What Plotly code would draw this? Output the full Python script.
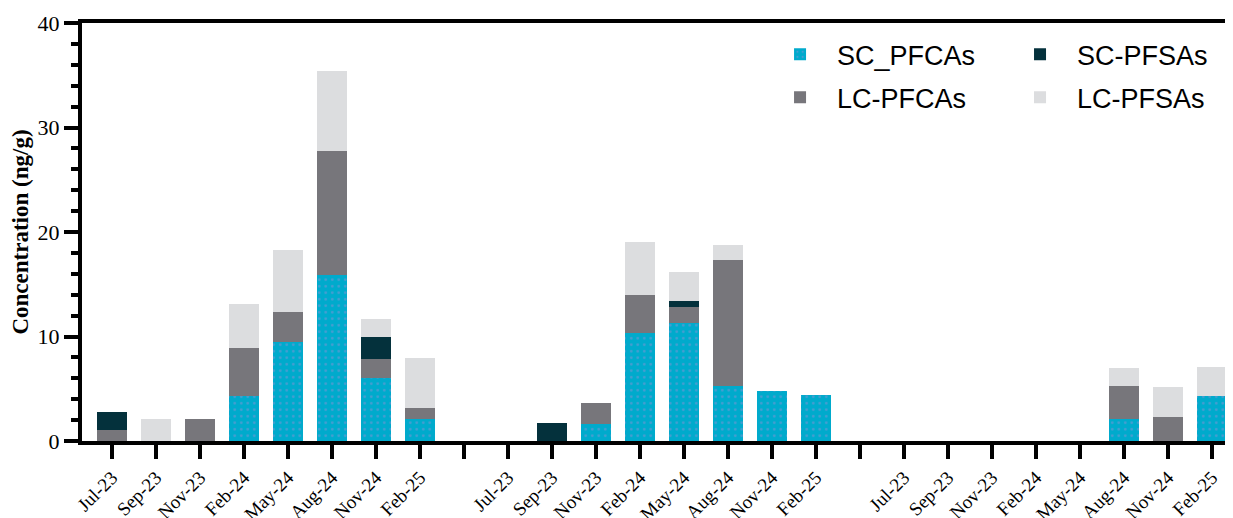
import plotly.graph_objects as go

months = ["Jul-23", "Sep-23", "Nov-23", "Feb-24", "May-24", "Aug-24", "Nov-24", "Feb-25"]

# three sampling groups, separated by an empty category
sc_pfcas = [
    [0, 0, 0, 4.3, 9.5, 15.85, 6.0, 2.1],
    [0, 0, 1.6, 10.35, 11.25, 5.3, 4.8, 4.45],
    [0, 0, 0, 0, 0, 2.15, 0, 4.3],
]
lc_pfcas = [
    [1.1, 0, 2.1, 4.6, 2.8, 11.9, 1.8, 1.05],
    [0, 0, 2.0, 3.65, 1.55, 12.0, 0, 0],
    [0, 0, 0, 0, 0, 3.1, 2.3, 0],
]
sc_pfsas = [
    [1.7, 0, 0, 0, 0, 0, 2.2, 0],
    [0, 1.7, 0, 0, 0.6, 0, 0, 0],
    [0, 0, 0, 0, 0, 0, 0, 0],
]
lc_pfsas = [
    [0, 2.1, 0, 4.2, 6.0, 7.7, 1.7, 4.8],
    [0, 0, 0, 5.0, 2.8, 1.5, 0, 0],
    [0, 0, 0, 0, 0, 1.7, 2.85, 2.75],
]

series_names = ["SC_PFCAs", "LC-PFCAs", "SC-PFSAs", "LC-PFSAs"]
colors = ["#00AACC", "#77767B", "#04313C", "#DCDDDF"]

n = len(months)
step = n + 1  # one empty slot between groups
xs, ticktext = [], []
for g in range(3):
    for i in range(n):
        xs.append(g * step + i)
for k in range(3 * step - 1):
    g, i = divmod(k, step)
    ticktext.append(months[i] if i < n else "")
tickvals = list(range(3 * step - 1))

def flat(s):
    return [v for grp in s for v in grp]

fig = go.Figure()
data = [sc_pfcas, lc_pfcas, sc_pfsas, lc_pfsas]
legend_of = ["legend", "legend3", "legend2", "legend4"]
for name, col, d, lg in zip(series_names, colors, data, legend_of):
    marker = dict(color=col, line=dict(width=0))
    if name == "SC_PFCAs":
        marker["pattern"] = dict(shape=".", fgcolor="#8E8FD6", bgcolor=col,
                                 size=6.5, solidity=0.14, fillmode="overlay")
    fig.add_trace(go.Bar(x=xs, y=flat(d), name=name, marker=marker,
                         width=0.68, legend=lg, showlegend=True))

legend_common = dict(orientation="h", xanchor="left", yanchor="middle",
                     font=dict(family="Liberation Sans, Arial", size=27, color="#000"),
                     bgcolor="rgba(0,0,0,0)", itemwidth=64)

col1, col2 = 0.5917, 0.8002
row1, row2 = 0.924, 0.821
fig.update_layout(
    width=1225, height=510,
    margin=dict(l=74, r=0, t=15, b=77),
    showlegend=True,
    barmode="stack",
    plot_bgcolor="white", paper_bgcolor="white",
    legend=dict(x=col1, y=row1, visible=True, **legend_common),
    legend2=dict(x=col2, y=row1, **legend_common),
    legend3=dict(x=col1, y=row2, **legend_common),
    legend4=dict(x=col2, y=row2, **legend_common),
    xaxis=dict(
        range=[-0.682, 25.48], automargin=False,
        tickmode="array", tickvals=tickvals, ticktext=ticktext,
        tickangle=-45,
        tickfont=dict(family="Liberation Serif, Times New Roman", size=19, color="#000"),
        showline=True, linewidth=4, linecolor="#000", mirror=True,
        ticks="outside", ticklen=14, tickwidth=4, tickcolor="#000",
        showgrid=False, zeroline=False,
    ),
    yaxis=dict(
        range=[0, 40], tickvals=[0, 10, 20, 30, 40], automargin=False,
        tickfont=dict(family="Liberation Serif, Times New Roman", size=22, color="#000"),
        showline=True, linewidth=4, linecolor="#000",
        ticks="outside", ticklen=14, tickwidth=4, tickcolor="#000",
        minor=dict(dtick=2, ticks="outside", ticklen=7, tickwidth=4, tickcolor="#000"),
        showgrid=False, zeroline=False,
        title=dict(text="<b>Concentration (ng/g)</b>",
                   font=dict(family="Liberation Serif, Times New Roman", size=23, color="#000"),
                   standoff=8),
    ),
)

fig.write_html("out.html")
